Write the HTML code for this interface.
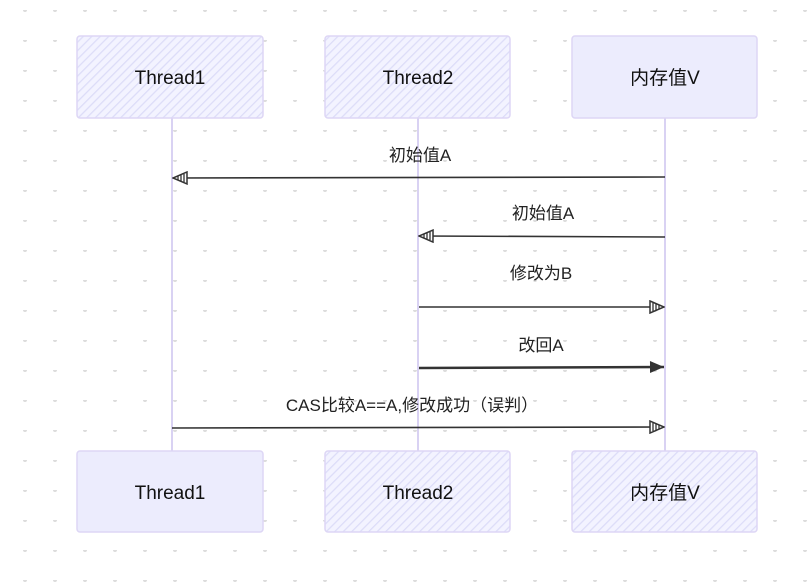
<!DOCTYPE html>
<html><head><meta charset="utf-8"><style>
body{margin:0;background:#fff;}
svg{display:block;font-family:"Comic Sans MS","Liberation Sans","Noto Sans CJK SC",sans-serif;}
</style></head><body>
<svg width="810" height="587" viewBox="0 0 810 587" xmlns="http://www.w3.org/2000/svg">
<defs>
<pattern id="dots" x="10" y="10" width="30" height="30" patternUnits="userSpaceOnUse">
<circle cx="15" cy="0" r="2" fill="#dcdcdc"/></pattern>
<pattern id="hatch" width="6" height="6" patternUnits="userSpaceOnUse" patternTransform="rotate(45)">
<rect width="6" height="6" fill="#f3f3ff"/><line x1="0" y1="0" x2="0" y2="6" stroke="#dcdcf8" stroke-width="2.5"/></pattern>
<marker id="ah" markerWidth="16" markerHeight="14" refX="15" refY="7" orient="auto" markerUnits="userSpaceOnUse">
<path d="M1,1 L15,7 L1,13 Z" fill="#fff" stroke="#333" stroke-width="1.5"/><path d="M4,3 L4,11 M7,4 L7,10 M10,5 L10,9" stroke="#333" stroke-width="1.3"/></marker>
<marker id="as" markerWidth="16" markerHeight="14" refX="15" refY="7" orient="auto" markerUnits="userSpaceOnUse">
<path d="M1,1 L15,7 L1,13 Z" fill="#333"/></marker>
</defs>
<rect width="810" height="587" fill="url(#dots)"/>
<g stroke="#d9d2f3" stroke-width="2">
<line x1="172" y1="118" x2="172" y2="451"/>
<line x1="418" y1="118" x2="418" y2="451"/>
<line x1="665" y1="118" x2="665" y2="451"/>
</g>
<g stroke="#ddd6f5" stroke-width="1.5">
<rect x="77" y="36" width="186" height="82" rx="3" fill="url(#hatch)"/>
<rect x="325" y="36" width="185" height="82" rx="3" fill="url(#hatch)"/>
<rect x="572" y="36" width="185" height="82" rx="3" fill="#ececfd"/>
<rect x="77" y="451" width="186" height="81" rx="3" fill="#ececfd"/>
<rect x="325" y="451" width="185" height="81" rx="3" fill="url(#hatch)"/>
<rect x="572" y="451" width="185" height="81" rx="3" fill="url(#hatch)"/>
</g>
<g font-size="19" fill="#111" text-anchor="middle">
<text x="170" y="84">Thread1</text>
<text x="418" y="84">Thread2</text>
<text x="665" y="84">内存值V</text>
<text x="170" y="499">Thread1</text>
<text x="418" y="499">Thread2</text>
<text x="665" y="499">内存值V</text>
</g>
<g stroke="#333" stroke-width="1.6" fill="none">
<line x1="665" y1="177" x2="173" y2="178" marker-end="url(#ah)"/>
<line x1="665" y1="237" x2="419" y2="236" marker-end="url(#ah)"/>
<line x1="419" y1="307" x2="664" y2="307" marker-end="url(#ah)"/>
<line x1="419" y1="368" x2="664" y2="367" stroke-width="2.5" marker-end="url(#as)"/>
<line x1="172" y1="428" x2="664" y2="427" marker-end="url(#ah)"/>
</g>
<g font-size="17" fill="#222" text-anchor="middle">
<text x="420" y="161">初始值A</text>
<text x="543" y="219">初始值A</text>
<text x="541" y="279">修改为B</text>
<text x="541" y="351">改回A</text>
<text x="412" y="411">CAS比较A==A,修改成功（误判）</text>
</g>
</svg>
</body></html>
